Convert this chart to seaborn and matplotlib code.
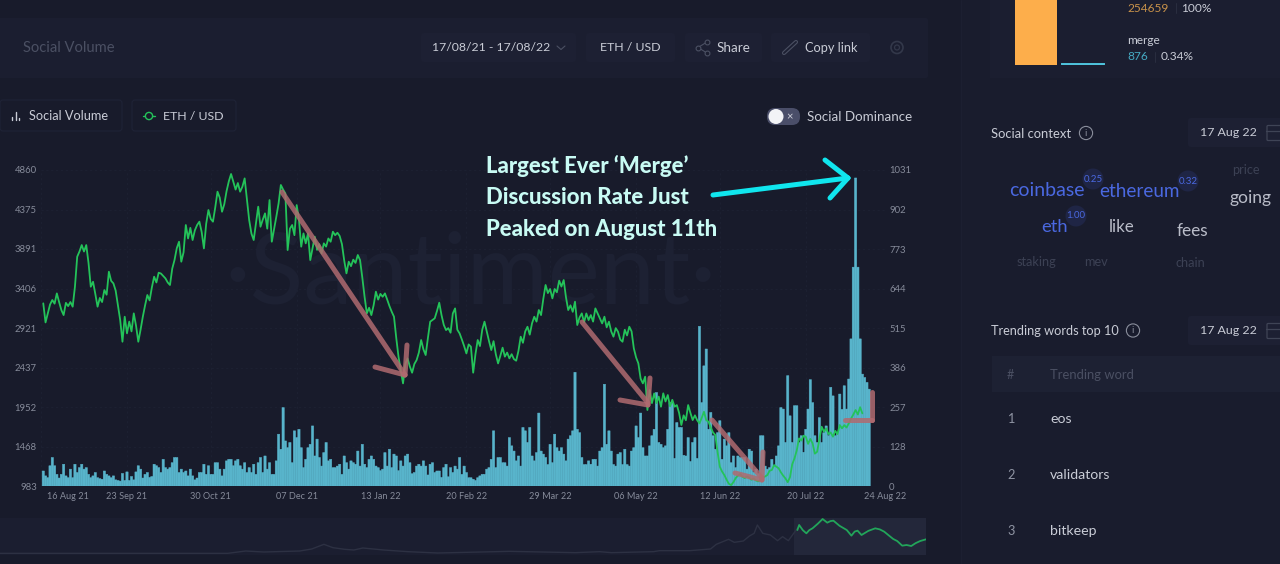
import matplotlib
matplotlib.use('Agg')
import matplotlib.pyplot as plt
from matplotlib.patches import FancyBboxPatch, Circle, Rectangle
from matplotlib.transforms import ScaledTranslation
import numpy as np
import pandas as pd
import seaborn as sns

BG = '#181b2b'
PANEL = '#1b1e30'
BOX = '#1d2033'
GRID = '#1f2335'
TICK = '#868b9a'
TEXT = '#c9ccd6'
DIM = '#4b5063'
GREEN = '#24c35a'
BAR = '#58b4cb'
ARROW = '#b06a70'
CYAN = '#10e6ee'

start_date = pd.Timestamp('2021-08-17')

# ETH / USD, one value per day
eth_price = [3224, 2990, 3100, 3210, 3265, 3220, 3346, 3240, 3142, 3080,
             3230, 3190, 3240, 3183, 3428, 3796, 3860, 3939, 3860, 3939,
             3720, 3428, 3489, 3340, 3183, 3290, 3240, 3387, 3330, 3612,
             3500, 3469, 3380, 3200, 3019, 2753, 3060, 2856, 3000, 2880,
             3101, 2950, 2753, 2900, 3060, 3200, 3326, 3260, 3420, 3551,
             3480, 3600, 3590, 3560, 3530, 3480, 3449, 3650, 3755, 3900,
             3980, 3735, 3850, 4185, 4020, 4150, 4001, 4120, 4185, 4226,
             4100, 3898, 4200, 4369, 4260, 4226, 4400, 4594, 4520, 4348,
             4440, 4600, 4720, 4811, 4716, 4620, 4700, 4594, 4655, 4757,
             4500, 4246, 4080, 4001, 4210, 4410, 4164, 4250, 4328, 4140,
             4491, 3980, 4130, 4287, 4450, 4676, 4620, 4573, 3878, 4140,
             4185, 4060, 4430, 4250, 3919, 4082, 3960, 4082, 3755, 3900,
             4042, 3880, 3950, 3837, 3960, 3920, 4020, 3980, 4103, 4060,
             4090, 4050, 3950, 3750, 3592, 3735, 3680, 3760, 3720, 3817,
             3755, 3540, 3305, 3101, 3170, 3080, 3200, 3367, 3270, 3340,
             3305, 3346, 3270, 3190, 3121, 3060, 2800, 2569, 2400, 2242,
             2480, 2549, 2450, 2373, 2480, 2528, 2620, 2774, 2660, 2590,
             2800, 2999, 3020, 3040, 3130, 3232, 3080, 2960, 2896, 2920,
             2864, 3100, 3162, 2900, 2855, 2780, 2700, 2610, 2720, 2692,
             2373, 2600, 2774, 2700, 2900, 2999, 2880, 2760, 2651, 2760,
             2600, 2487, 2580, 2680, 2570, 2620, 2549, 2600, 2540, 2520,
             2640, 2815, 2740, 2880, 2937, 2840, 2978, 3060, 3000, 3142,
             3080, 3280, 3449, 3350, 3400, 3285, 3400, 3360, 3502, 3430,
             3510, 3300, 3142, 3200, 3120, 3244, 2958, 3050, 3101, 2990,
             3100, 3019, 3080, 3000, 3162, 3100, 3040, 2978, 3060, 2930,
             2999, 2880, 2815, 2920, 2876, 2780, 2753, 2900, 2830, 2937,
             2880, 2671, 2560, 2487, 2300, 2242, 2324, 1915, 2160, 2000,
             2119, 2000, 2080, 1956, 2120, 2020, 2099, 1960, 2040, 1956,
             1976, 1880, 1731, 1850, 1790, 1976, 1880, 1792, 1850, 1790,
             1751, 1820, 1894, 1790, 1772, 1700, 1640, 1608, 1400, 1220,
             1160, 1117, 1060, 1010, 994, 1030, 1080, 1110, 1130, 1097,
             1080, 1100, 1085, 1060, 1076, 1050, 1040, 1056, 1080, 1100,
             1117, 1170, 1180, 1240, 1220, 1200, 1150, 1110, 1076, 1030,
             1090, 1250, 1322, 1420, 1567, 1540, 1600, 1588, 1500, 1560,
             1506, 1380, 1403, 1560, 1710, 1650, 1690, 1620, 1640, 1588,
             1660, 1620, 1731, 1690, 1730, 1700, 1751, 1810, 1860, 1915,
             1860, 1950, 1874]

# daily social volume
social_volume = [49, 33, 27, 66, 93, 66, 38, 26, 38, 71, 33, 27, 55, 27, 71, 44, 60, 71, 55, 60, 38, 27, 33, 44, 27,
                 24, 22, 49, 38, 33, 27, 33, 20, 18, 16, 41, 18, 46, 18, 31, 20, 46, 66, 55, 26, 38, 44, 28, 31, 71,
                 66, 60, 44, 87, 60, 55, 60, 76, 93, 93, 44, 55, 44, 49, 33, 55, 33, 20, 26, 44, 44, 71, 38, 66, 38,
                 38, 76, 76, 55, 33, 55, 82, 87, 87, 66, 82, 87, 66, 55, 76, 44,
                 60, 44, 71, 38, 76, 93, 44, 98, 55, 76, 38, 38, 82, 169, 120, 256, 147, 125, 142, 76, 180, 158, 185,
                 125, 60, 87, 125, 136, 196, 98, 153, 93, 65, 109, 142, 82, 87, 60, 60, 65, 71, 38, 98, 76, 55, 82,
                 76, 71, 114, 65, 136, 71, 60, 87, 98, 87, 65, 60, 50, 55, 109, 65, 120, 60, 104, 98, 50, 82, 65, 98,
                 104, 76, 40, 44, 65, 71, 65, 82, 65, 36, 71, 76, 44, 49, 49, 28, 60, 71, 30, 60, 44,
                 65, 55, 93, 38, 65, 44, 27, 27, 22, 18, 27, 33, 38, 38, 55, 60, 87, 180, 60, 93, 93, 76, 76, 65, 158,
                 131, 114, 82, 98, 65, 191, 180, 142, 191, 98, 82, 109, 238, 114, 104, 93, 70, 136, 76, 169, 125,
                 114, 125, 104, 82, 153, 164, 180, 371, 185, 174, 93, 70, 70, 82, 71, 87, 87, 65, 114, 125, 332, 136,
                 180, 114, 70, 65, 104, 109, 70, 120, 70, 65, 114, 125, 196, 158, 238, 125, 98, 98, 131, 164, 185,
                 305, 142,
                 136, 125, 131, 185, 272, 272, 90, 207, 191, 191, 100, 98, 158, 80, 142, 158, 90, 521, 272, 392, 447,
                 185, 240, 164, 120, 174, 213, 87, 153, 131, 174, 76, 98, 60, 98, 93, 93, 93, 55, 120, 114, 45, 55,
                 40, 164, 164, 65, 55, 60, 87, 65, 98, 131, 256, 251, 142, 360, 229, 142, 262, 262, 142, 164, 110,
                 185, 251, 347, 272, 164, 142, 223, 142, 174, 196, 164, 322, 294, 164, 174, 300, 250, 327, 251, 349,
                 480, 714, 1005, 714, 480, 365, 354, 338, 316]

volume_ticks = [0, 128, 257, 386, 515, 644, 773, 902, 1031]
price_ticks = [983, 1468, 1952, 2437, 2921, 3406, 3891, 4375, 4860]
date_ticks = ['2021-08-16', '2021-09-23', '2021-10-30', '2021-12-07', '2022-01-13', '2022-02-20',
              '2022-03-29', '2022-05-06', '2022-06-12', '2022-07-20', '2022-08-24']
date_labels = ['16 Aug 21', '23 Sep 21', '30 Oct 21', '07 Dec 21', '13 Jan 22', '20 Feb 22',
               '29 Mar 22', '06 May 22', '12 Jun 22', '20 Jul 22', '24 Aug 22']

# overview strip at the bottom: whole price history
mini_days = [0, 632, 682, 732, 832, 865, 899, 924, 957, 982, 1007, 1065, 1132, 1215, 1414, 1597, 1664, 1697, 1814,
             1830, 1914, 1972, 1988, 2022, 2038, 2063, 2080, 2093, 2102, 2117, 2138, 2158, 2172, 2188, 2213]
mini_price = [0, 0, 322, 184, 322, 598, 1242, 782, 552, 460, 736, 460, 230, 46, 276, 92, 230, 92, 230,
              368, 368, 598, 1242, 1932, 1518, 1702, 2392, 2760, 3910, 2760, 2530, 1748, 2300, 1748, 3450]
mini_sel_days = [2213, 2218, 2228, 2238, 2246, 2255, 2270, 2283, 2296, 2305, 2313, 2330, 2350, 2363, 2372, 2380,
                 2391, 2410, 2429, 2442, 2454, 2466, 2479, 2490, 2504, 2516, 2529, 2541, 2554, 2570]
mini_sel_price = [3220, 3910, 3200, 2760, 3200, 3450, 4100, 4738, 4232, 4450, 4508, 3800, 3220, 2438, 3000, 3128,
                  2530, 3100, 3450, 3300, 2990, 2500, 1978, 1700, 1058, 1150, 1012, 1400, 1702, 1932]

compare_terms = ['total', 'merge']
compare_counts = [254659, 876]

sns.set_theme(style='dark', rc={'figure.facecolor': BG, 'axes.facecolor': 'none'})
plt.rcParams['font.family'] = ['Lato', 'DejaVu Sans']

fig = plt.figure(figsize=(12.8, 5.64), dpi=100)
W, H = 1280, 564


def px_axes(x0, y0, x1, y1, **kwargs):
    return fig.add_axes([x0 / W, 1 - y1 / H, (x1 - x0) / W, (y1 - y0) / H], **kwargs)


# page furniture, in pixel coordinates
ui = px_axes(0, 0, W, H)
ui.set_xlim(0, W)
ui.set_ylim(H, 0)
ui.axis('off')


def box(x0, y0, x1, y1, color=BOX, edge='none', r=3, z=1):
    ui.add_patch(FancyBboxPatch((x0 + r, y0 + r), x1 - x0 - 2 * r, y1 - y0 - 2 * r,
                                boxstyle=f'round,pad={r}', fc=color, ec=edge, lw=0.8, zorder=z))


def label(x, y, s, color=TEXT, size=9.7, ha='left', **kwargs):
    ui.text(x, y, s, color=color, fontsize=size, ha=ha, va='center', **kwargs)


ui.add_patch(Rectangle((962, 0), 318, H, fc='#191c2d', ec='none', zorder=0))
ui.plot([961, 961], [0, H], color='#1c1f31', lw=1, zorder=0)
box(-5, 18, 928, 78, PANEL, r=2)
label(23, 47.5, 'Social Volume', DIM, 10.6)

box(421, 33, 576, 62)
label(432, 47.5, '17/08/21 - 17/08/22', TEXT, 8.8)
ui.plot([557, 561, 565], [46, 49.5, 46], color=DIM, lw=0.8, zorder=3)
box(586, 33, 675, 62)
label(630.5, 47.5, 'ETH / USD', TEXT, 8.9, ha='center')
box(685, 33, 762, 62)
ui.plot([707, 698, 707], [42, 47.5, 53], color=DIM, lw=0.8, zorder=3)
ui.scatter([707, 698, 707], [42, 47.5, 53], s=12, fc=PANEL, ec=DIM, lw=0.8, zorder=4)
label(717, 47.5, 'Share', TEXT, 9.7)
box(771, 33, 870, 62)
ui.plot([784, 796], [53, 42], color=DIM, lw=3, solid_capstyle='round', zorder=3)
ui.plot([784, 796], [53, 42], color=BOX, lw=1.4, solid_capstyle='round', zorder=4)
label(805, 47.5, 'Copy link', TEXT, 9.2)
ui.add_patch(Circle((897, 47.5), 6, fc='none', ec='#33384a', lw=1.2, zorder=3))
ui.add_patch(Circle((897, 47.5), 2.5, fc='none', ec='#33384a', lw=0.9, zorder=3))

box(0, 100, 122, 131, BG, edge='#1f2336')
ui.plot([12, 12], [117, 120], color=TEXT, lw=1, zorder=3)
ui.plot([15.5, 15.5], [112, 120], color=TEXT, lw=1, zorder=3)
ui.plot([19, 19], [118, 120], color=TEXT, lw=1, zorder=3)
label(29, 116, 'Social Volume', TEXT, 9.2)
box(132, 100, 236, 131, BG, edge='#1f2336')
ui.plot([143, 155], [116, 116], color=GREEN, lw=1, zorder=3)
ui.add_patch(Circle((149, 116), 3.6, fc=BG, ec=GREEN, lw=1, zorder=4))
label(163, 116, 'ETH / USD', TEXT, 8.9)

box(767, 108, 800, 125, '#4a4e69', r=8)
ui.add_patch(Circle((776, 116.5), 7.5, fc='#f2f3f6', ec='none', zorder=3))
label(789.5, 116.5, '×', '#d5d7e0', 8, ha='center', zorder=3)
label(807, 117, 'Social Dominance', TEXT, 9.6)

label(471, 276, '·Santiment·', '#1d2133', 71, ha='center', zorder=0.5)

# main chart: volume on the right axis, price on the left axis
ax_vol = px_axes(41, 170, 885, 486)
sns.barplot(x=np.arange(len(social_volume)), y=social_volume, native_scale=True, color=BAR, saturation=1,
            width=1.0, linewidth=0.35, edgecolor=BAR, ax=ax_vol)
for bar in ax_vol.patches:
    bar.set_snap(False)
ax_vol.set_xlim(-1, 372)
ax_vol.set_ylim(0, 1031)
ax_vol.set_yticks(volume_ticks)
ax_vol.set_xlabel('')
ax_vol.set_ylabel('')
day_ticks = [(pd.Timestamp(d) - start_date).days for d in date_ticks]
ax_vol.set_xticks(day_ticks)
ax_vol.set_xticklabels(date_labels)
ax_vol.tick_params(axis='x', length=0, labelsize=6.6, labelcolor=TICK, pad=4)
ax_vol.tick_params(axis='y', length=0, labelsize=6.8, labelcolor=TICK, pad=3)
ax_vol.grid(True, color=GRID, lw=0.5, ls=(0, (3, 4)))
ax_vol.set_axisbelow(True)
sns.despine(ax=ax_vol, left=True, right=True, top=True, bottom=True)
first = ax_vol.get_xticklabels()[0]
first.set_ha('left')
first.set_transform(first.get_transform() + ScaledTranslation(6 / 100, 0, fig.dpi_scale_trans))

ax_price = ax_vol.twinx()
ax_vol.yaxis.tick_right()
sns.lineplot(x=np.arange(len(eth_price)), y=eth_price, color=GREEN, lw=1.3, ax=ax_price, errorbar=None, estimator=None)
ax_price.set_ylim(983, 4860)
ax_price.yaxis.tick_left()
ax_price.set_yticks(price_ticks)
ax_price.tick_params(axis='y', length=0, labelsize=6.8, labelcolor=TICK, pad=3)
ax_price.set_ylabel('')
sns.despine(ax=ax_price, left=True, right=True, top=True, bottom=True)

# overview strip
ax_mini = px_axes(0, 518, 926, 555)
ax_mini.set_facecolor(PANEL)
ax_mini.axvspan(2204, 2570, color='#23273a', lw=0)
sns.lineplot(x=mini_days, y=mini_price, color='#2d3143', lw=1, ax=ax_mini, errorbar=None, estimator=None)
sns.lineplot(x=mini_sel_days, y=mini_sel_price, color='#22a55a', lw=1.3, ax=ax_mini, errorbar=None, estimator=None)
ax_mini.set_xlim(0, 2570)
ax_mini.set_ylim(-230, 4876)
ax_mini.set_xticks([])
ax_mini.set_yticks([])
ax_mini.set_xlabel('')
ax_mini.set_ylabel('')
sns.despine(ax=ax_mini, left=True, right=True, top=True, bottom=True)

# right column, top comparison bars
ui.add_patch(Rectangle((990, -2), 292, 80, fc=PANEL, ec='none', zorder=0.5))
ax_cmp = px_axes(1012, -2, 1107, 64.5)
sns.barplot(x=compare_terms, y=compare_counts, hue=compare_terms, palette=['#fdae4b', '#4fc3dc'], saturation=1,
            legend=False, width=0.88, ax=ax_cmp, edgecolor='none')
ax_cmp.patches[1].set(edgecolor='#4fc3dc', linewidth=1.4)
ax_cmp.set_ylim(0, 250000)
ax_cmp.axis('off')

label(1127, 8, '254659', '#c8924a', 8.6)
ui.plot([1176, 1176], [3, 13], color='#2a2e40', lw=0.7, zorder=3)
label(1181, 8, '100%', TEXT, 8.6)
label(1127, 40, 'merge', TEXT, 8.6)
label(1127, 57, '876', '#45a9c2', 8.6)
ui.plot([1155, 1155], [52, 62], color='#2a2e40', lw=0.7, zorder=3)
label(1161, 57, '0.34%', TEXT, 8.6)


def info(x, y):
    ui.add_patch(Circle((x, y), 6.6, fc='none', ec='#8a8e9c', lw=0.8, zorder=3))
    label(x, y, 'i', '#8a8e9c', 7, ha='center', zorder=3)


def date_box(y0, y1):
    box(1188, y0, 1295, y1, BOX)
    label(1200, (y0 + y1) / 2, '17 Aug 22', TEXT, 8.9)
    ui.add_patch(FancyBboxPatch((1268, (y0 + y1) / 2 - 6), 20, 13, boxstyle='round,pad=1', fc='none',
                                ec='#3f4456', lw=0.9, zorder=3))
    ui.plot([1266, 1285], [(y0 + y1) / 2 - 2] * 2, color='#3f4456', lw=0.9, zorder=3)


label(991, 133.5, 'Social context', TEXT, 9.4)
info(1086, 133)
date_box(118, 147)

BLUE = '#4a68e0'
for x, y, s in [(1093, 179, '0.25'), (1188, 181, '0.32'), (1076, 216, '1.00')]:
    ui.add_patch(Circle((x, y), 10.5, fc='#1f2545', ec='none', zorder=1))
    label(x, y, s, BLUE, 7, ha='center', zorder=3)
label(1009, 190, 'coinbase', BLUE, 14, zorder=3)
label(1099, 191.5, 'ethereum', BLUE, 13.6, zorder=3)
label(1041, 226.5, 'eth', BLUE, 13.2, zorder=3)
label(1109, 227.5, 'like', '#b9bcc8', 12.2)
label(1177, 231.5, 'fees', '#b9bcc8', 12.4)
label(1230, 198.5, 'going', '#b9bcc8', 12.6)
label(1232, 170, 'price', '#3c4154', 9.2)
label(1017, 262, 'staking', '#3c4154', 9.2)
label(1084, 262, 'mev', '#3c4154', 9.2)
label(1176, 263, 'chain', '#3c4154', 9.2)

label(991, 331, 'Trending words top 10', TEXT, 9.2)
info(1133, 330.5)
date_box(316, 345)

ui.add_patch(Rectangle((992, 356), 290, 36, fc='#1d2133', ec='none', zorder=0.5))
label(1007, 375, '#', DIM, 9)
label(1050, 375, 'Trending word', DIM, 9.4)
for y, n, word in [(419, '1', 'eos'), (475, '2', 'validators'), (531, '3', 'bitkeep')]:
    label(1007, y, n, '#8f94a3', 9.2)
    label(1050, y, word, TEXT, 10.2)

# annotations drawn over everything
top = px_axes(0, 0, W, H)
top.set_xlim(0, W)
top.set_ylim(H, 0)
top.axis('off')
for xs, ys in [([282, 405], [192, 375]), ([375, 405], [367, 375]), ([405, 407], [375, 345]),
               ([582, 648], [322, 403]), ([620, 648], [400, 405]), ([648, 650], [405, 378]),
               ([712, 762], [420, 478]), ([735, 762], [473, 480]), ([762, 763], [480, 452]),
               ([845, 872], [420, 420]), ([872, 872], [420, 392])]:
    top.plot(xs, ys, color=ARROW, lw=3.6, alpha=0.85, solid_capstyle='round')
for xs, ys in [([713, 848], [195, 178]), ([825, 848], [160, 178]), ([848, 830], [178, 198])]:
    top.plot(xs, ys, color=CYAN, lw=3.6, solid_capstyle='round')
for y, s in [(166, 'Largest Ever ‘Merge’'), (197.5, 'Discussion Rate Just'), (229, 'Peaked on August 11th')]:
    top.text(486, y, s, color='#c8fbf4', fontsize=15.9, fontweight=900, ha='left', va='center')

fig.savefig('out.png', dpi=100, facecolor=BG)
